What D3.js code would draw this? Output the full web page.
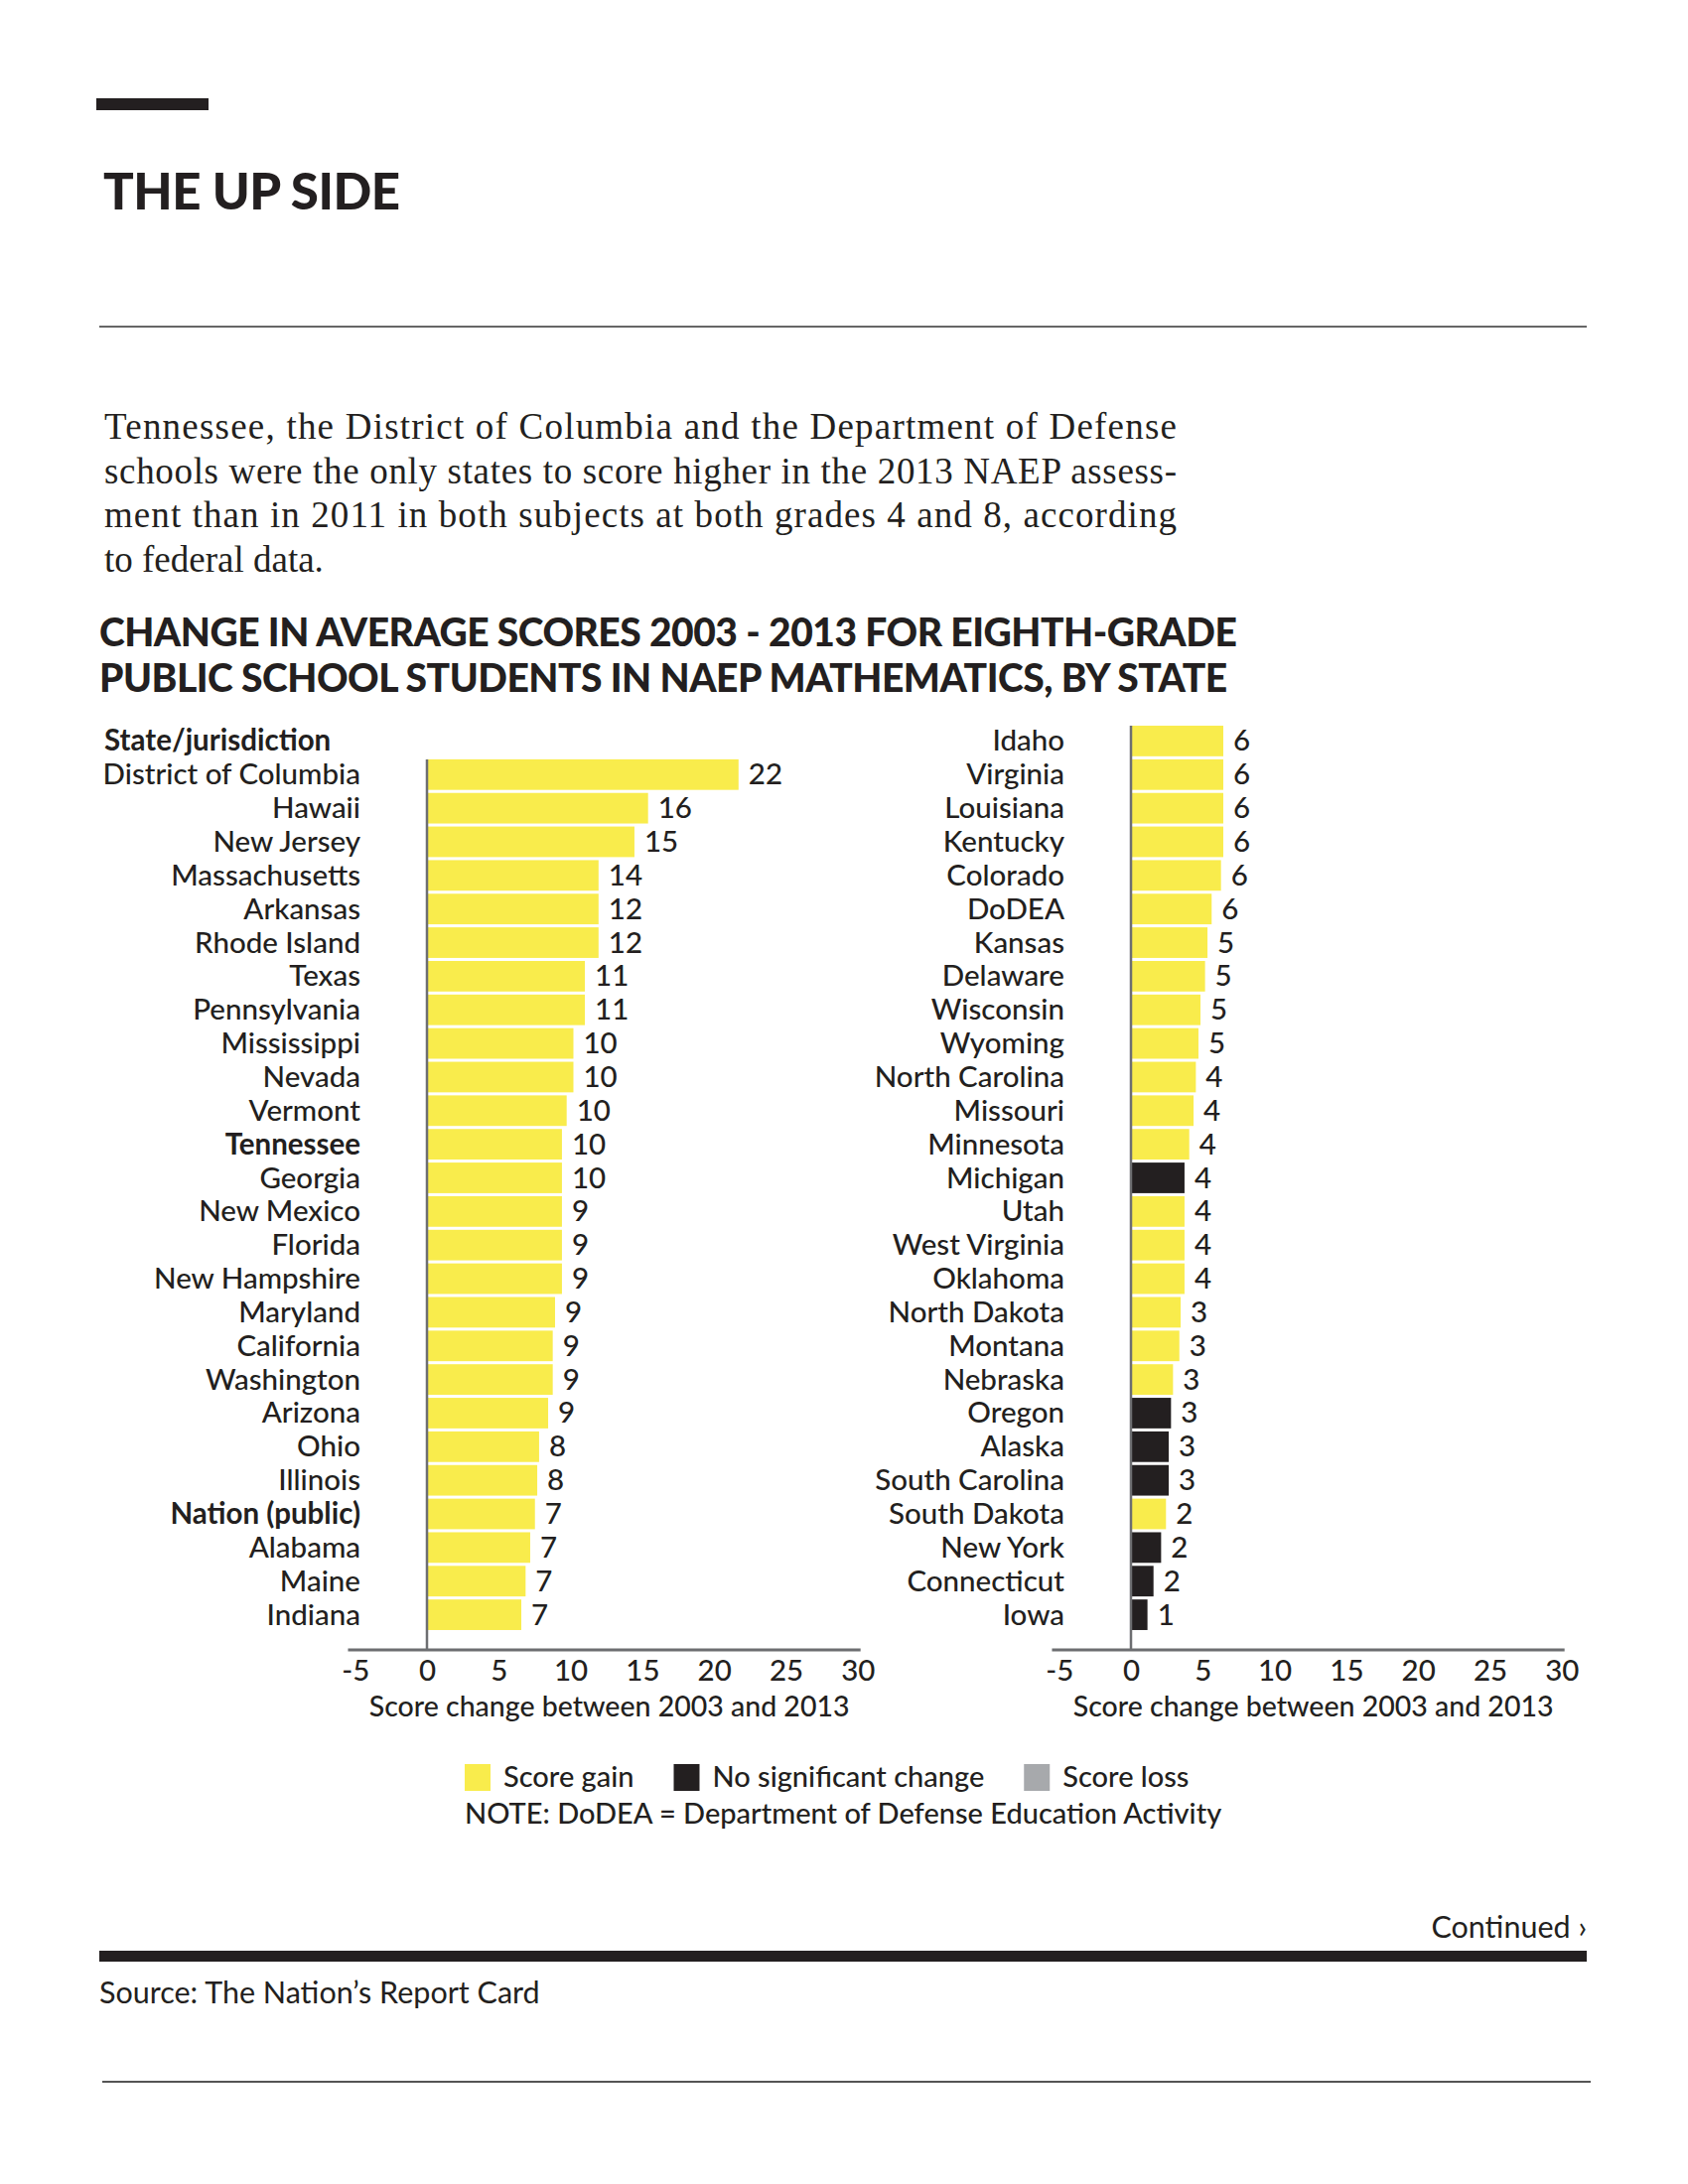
<!DOCTYPE html>
<html>
<head>
<meta charset="utf-8">
<script src="https://cdn.jsdelivr.net/npm/d3@7"></script>
<style>
  body { margin: 0; background: #fff; }
  svg { display: block; }
  text { fill: #231f20; }
</style>
</head>
<body>
<svg id="chart"></svg>
<script>
// left column (first row is the "State/jurisdiction" header)
const leftStates = ["District of Columbia", "Hawaii", "New Jersey", "Massachusetts", "Arkansas", "Rhode Island",
  "Texas", "Pennsylvania", "Mississippi", "Nevada", "Vermont", "Tennessee", "Georgia", "New Mexico", "Florida",
  "New Hampshire", "Maryland", "California", "Washington", "Arizona", "Ohio", "Illinois", "Nation (public)",
  "Alabama", "Maine", "Indiana"];
const leftLabels = [22, 16, 15, 14, 12, 12, 11, 11, 10, 10, 10, 10, 10, 9, 9, 9, 9, 9, 9, 9, 8, 8, 7, 7, 7, 7];
const leftBars = [21.7, 15.4, 14.45, 11.95, 11.95, 11.95, 11.0, 11.0, 10.2, 10.2, 9.73, 9.4, 9.4, 9.4, 9.4, 9.4,
  8.92, 8.76, 8.76, 8.44, 7.81, 7.68, 7.52, 7.19, 6.87, 6.57];
const leftStatus = leftStates.map(() => "gain");

const rightStates = ["Idaho", "Virginia", "Louisiana", "Kentucky", "Colorado", "DoDEA", "Kansas", "Delaware",
  "Wisconsin", "Wyoming", "North Carolina", "Missouri", "Minnesota", "Michigan", "Utah", "West Virginia", "Oklahoma",
  "North Dakota", "Montana", "Nebraska", "Oregon", "Alaska", "South Carolina", "South Dakota", "New York",
  "Connecticut", "Iowa"];
const rightLabels = [6, 6, 6, 6, 6, 6, 5, 5, 5, 5, 4, 4, 4, 4, 4, 4, 4, 3, 3, 3, 3, 3, 3, 2, 2, 2, 1];
const rightBars = [6.43, 6.43, 6.43, 6.43, 6.27, 5.62, 5.33, 5.16, 4.84, 4.70, 4.52, 4.36, 4.06, 3.73, 3.73, 3.73,
  3.73, 3.46, 3.37, 2.93, 2.79, 2.63, 2.63, 2.44, 2.10, 1.57, 1.15];
const rightStatus = ["gain", "gain", "gain", "gain", "gain", "gain", "gain", "gain", "gain", "gain", "gain", "gain",
  "gain", "nsc", "gain", "gain", "gain", "gain", "gain", "gain", "nsc", "nsc", "nsc", "gain", "nsc", "nsc", "nsc"];

const boldStates = ["Tennessee", "Nation (public)"];
const xTicks = [-5, 0, 5, 10, 15, 20, 25, 30];

const legendKeys = ["gain", "nsc", "loss"];
const legendLabels = ["Score gain", "No significant change", "Score loss"];

const paragraph = [
  "Tennessee, the District of Columbia and the Department of Defense",
  "schools were the only states to score higher in the 2013 NAEP assess-",
  "ment than in 2011 in both subjects at both grades 4 and 8, according",
  "to federal data."
];
const chartTitle = [
  "CHANGE IN AVERAGE SCORES 2003 - 2013 FOR EIGHTH-GRADE",
  "PUBLIC SCHOOL STUDENTS IN NAEP MATHEMATICS, BY STATE"
];

const colors = { gain: "#f9ec4c", nsc: "#231f20", loss: "#a7a9ac" };
const sans = "Lato, 'Open Sans', sans-serif";
const fs = "29.5px";

const width = 1700, height = 2200;
const svg = d3.select("#chart").attr("width", width).attr("height", height);

// header block
svg.append("rect").attr("x", 97).attr("y", 99).attr("width", 113).attr("height", 12).attr("fill", "#231f20");
svg.append("text").attr("x", 104).attr("y", 211)
  .style("font-family", sans).style("font-weight", 900).style("font-size", "51px").style("letter-spacing", "-0.5px")
  .text("THE UP SIDE");
svg.append("line").attr("x1", 100).attr("x2", 1598).attr("y1", 329).attr("y2", 329)
  .attr("stroke", "#666").attr("stroke-width", 2);

svg.selectAll(".para").data(paragraph).enter().append("text")
  .attr("class", "para")
  .attr("x", 105).attr("y", (d, i) => 442 + i * 44.5)
  .style("font-family", "'Liberation Serif', 'DejaVu Serif', serif").style("font-size", "37px")
  .attr("textLength", (d, i) => i < 3 ? 1080 : null)
  .attr("lengthAdjust", "spacing")
  .text(d => d);

svg.selectAll(".ctitle").data(chartTitle).enter().append("text")
  .attr("class", "ctitle")
  .attr("x", 100).attr("y", (d, i) => 651 + i * 46)
  .style("font-family", sans).style("font-weight", 900).style("font-size", "39px").style("letter-spacing", "-0.5px")
  .text(d => d);

// shared row scale: 27 rows for each column
const y = d3.scaleBand().domain(d3.range(27)).range([729.5, 1643.5]).paddingInner(0.09).paddingOuter(0.045);
const axisY = 1662;

function panel(states, labels, bars, status, zeroX, firstRow, labelRight) {
  const x = d3.scaleLinear().domain([-5, 30]).range([zeroX - 5 * 14.46, zeroX + 30 * 14.46]);
  const g = svg.append("g");
  const rows = states.map((s, i) => ({ state: s, label: labels[i], bar: bars[i], status: status[i], row: i + firstRow }));

  g.selectAll("rect.bar").data(rows).enter().append("rect")
    .attr("class", "bar")
    .attr("x", x(0))
    .attr("y", d => y(d.row))
    .attr("width", d => x(d.bar) - x(0))
    .attr("height", y.bandwidth())
    .attr("fill", d => colors[d.status]);

  g.selectAll("text.val").data(rows).enter().append("text")
    .attr("class", "val")
    .attr("x", d => x(d.bar) + 10)
    .attr("y", d => y(d.row) + y.bandwidth() / 2 + 10)
    .style("font-family", sans).style("font-size", fs).style("font-weight", 500)
    .text(d => d.label);

  g.selectAll("text.state").data(rows).enter().append("text")
    .attr("class", "state")
    .attr("x", labelRight)
    .attr("y", d => y(d.row) + y.bandwidth() / 2 + 10)
    .attr("text-anchor", "end")
    .style("font-family", sans).style("font-size", fs)
    .style("font-weight", d => boldStates.includes(d.state) ? 700 : 500)
    .text(d => d.state);

  // zero line
  g.append("line").attr("x1", x(0)).attr("x2", x(0))
    .attr("y1", y(firstRow)).attr("y2", axisY)
    .attr("stroke", "#6d6e71").attr("stroke-width", 2.5);

  // x axis
  const axis = g.append("g").attr("transform", `translate(0,${axisY})`)
    .call(d3.axisBottom(x).tickValues(xTicks).tickSize(0).tickPadding(10).tickFormat(d => String(d)));
  axis.select(".domain").remove();
  axis.append("line").attr("x1", x(-5.5)).attr("x2", x(30.2))
    .attr("stroke", "#6d6e71").attr("stroke-width", 3);
  axis.selectAll(".tick text")
    .style("font-family", sans).style("font-size", fs).style("font-weight", 500).attr("fill", "#231f20")
    .attr("dy", "0.72em");

  g.append("text").attr("x", x(12.7)).attr("y", 1729)
    .attr("text-anchor", "middle")
    .style("font-family", sans).style("font-size", "28.5px").style("font-weight", 500)
    .text("Score change between 2003 and 2013");
  return x;
}

panel(leftStates, leftLabels, leftBars, leftStatus, 430, 1, 363);
panel(rightStates, rightLabels, rightBars, rightStatus, 1139, 0, 1072);

svg.append("text").attr("x", 105).attr("y", y(0) + y.bandwidth() / 2 + 10)
  .style("font-family", sans).style("font-size", fs).style("font-weight", 700)
  .text("State/jurisdiction");

// legend
const legend = svg.append("g");
let lx = 468;
legendKeys.forEach((k, i) => {
  legend.append("rect").attr("x", lx).attr("y", 1777).attr("width", 26).attr("height", 27).attr("fill", colors[k]);
  const t = legend.append("text").attr("x", lx + 39).attr("y", 1800)
    .style("font-family", sans).style("font-size", "29px").style("font-weight", 500)
    .text(legendLabels[i]);
  lx = lx + 39 + t.node().getComputedTextLength() + 40;
});
svg.append("text").attr("x", 468).attr("y", 1837)
  .style("font-family", sans).style("font-size", "29px").style("font-weight", 500)
  .text("NOTE: DoDEA = Department of Defense Education Activity");

// footer
svg.append("text").attr("x", 1598).attr("y", 1952).attr("text-anchor", "end")
  .style("font-family", sans).style("font-size", "30.5px").style("font-weight", 400)
  .text("Continued \u203A");
svg.append("rect").attr("x", 100).attr("y", 1965).attr("width", 1498).attr("height", 11).attr("fill", "#231f20");
svg.append("text").attr("x", 100).attr("y", 2018)
  .style("font-family", sans).style("font-size", "30.5px").style("font-weight", 400)
  .text("Source: The Nation\u2019s Report Card");
svg.append("line").attr("x1", 103).attr("x2", 1602).attr("y1", 2097).attr("y2", 2097)
  .attr("stroke", "#555").attr("stroke-width", 2);
</script>
</body>
</html>
